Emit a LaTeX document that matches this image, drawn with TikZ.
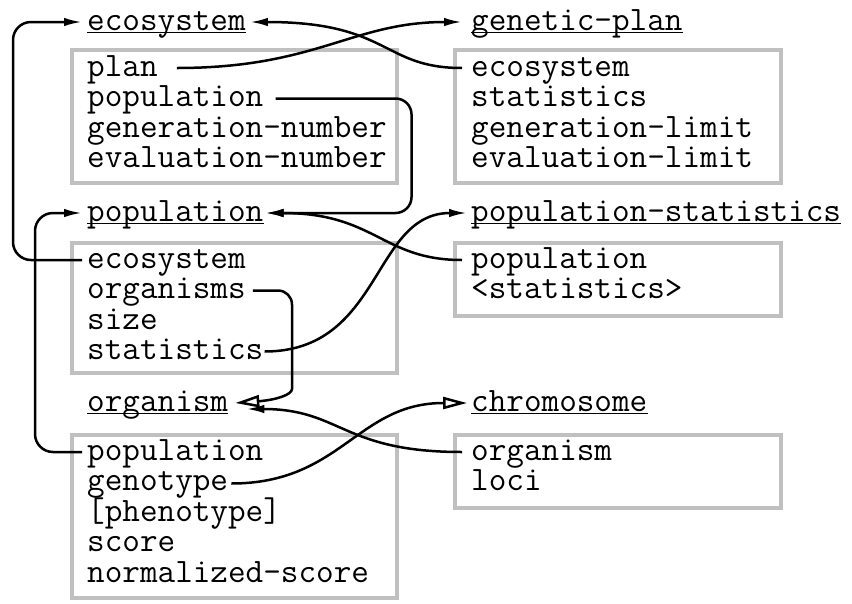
\documentclass[tikz,border=0pt]{standalone}
\usepackage{fontspec}
\usetikzlibrary{arrows.meta}
\definecolor{boxgray}{RGB}{192,192,192}
\begin{document}
\begin{tikzpicture}[x=1pt,y=-1pt,
  txt/.style={font=\ttfamily\fontsize{34.2}{30.5}\selectfont, inner sep=0pt, anchor=base west},
  gbox/.style={draw=boxgray, line width=3.3pt, inner sep=0pt},
  conn/.style={line width=2.5pt, -{Latex[length=18pt,width=8.5pt]}},
  oconn/.style={line width=2.5pt, -{Triangle[open,length=24pt,width=12pt]}},
  uline/.style={line width=1.5pt}]
\useasboundingbox (0,0) rectangle (852,603);

% boxes
\node[gbox, minimum width=325pt, minimum height=133pt] (bE) at (234.5,116.5) {};
\node[gbox, minimum width=326pt, minimum height=133pt] (bG) at (618,116.5) {};
\node[gbox, minimum width=325pt, minimum height=130pt] (bP) at (234.5,308) {};
\node[gbox, minimum width=326pt, minimum height=73pt] (bS) at (618,279.5) {};
\node[gbox, minimum width=325pt, minimum height=163pt] (bO) at (234.5,516.5) {};
\node[gbox, minimum width=326pt, minimum height=73pt] (bC) at (618,471.5) {};

% titles
\node[txt] (tE) at (87,30) {ecosystem};
\node[txt] (tG) at (471,30) {genetic-plan};
\node[txt] (tP) at (87,221) {population};
\node[txt] (tS) at (471,221) {population-statistics};
\node[txt] (tO) at (87,411) {organism};
\node[txt] (tC) at (471,411) {chromosome};
\foreach \t in {tE,tG,tP,tS,tO,tC}
  \draw[uline] ([yshift=-2.5pt]\t.base west) -- ([yshift=-2.5pt]\t.base east);

% slots
\node[txt] (e1) at (87,76) {plan};
\node[txt] (e2) at (87,106.5) {population};
\node[txt] (e3) at (87,137) {generation-number};
\node[txt] (e4) at (87,167.5) {evaluation-number};
\node[txt] (g1) at (471,76) {ecosystem};
\node[txt] (g2) at (471,106.5) {statistics};
\node[txt] (g3) at (471,137) {generation-limit};
\node[txt] (g4) at (471,167.5) {evaluation-limit};
\node[txt] (p1) at (87,268) {ecosystem};
\node[txt] (p2) at (87,298.5) {organisms};
\node[txt] (p3) at (87,329) {size};
\node[txt] (p4) at (87,359.5) {statistics};
\node[txt] (s1) at (471,268) {population};
\node[txt] (s2) at (471,298.5) {<statistics>};
\node[txt] (o1) at (87,460) {population};
\node[txt] (o2) at (87,490.5) {genotype};
\node[txt] (o3) at (87,521) {[phenotype]};
\node[txt] (o4) at (87,551.5) {score};
\node[txt] (o5) at (87,582) {normalized-score};
\node[txt] (c1) at (471,460) {organism};
\node[txt] (c2) at (471,490.5) {loci};

% arrow end points
\coordinate (aGP) at ([xshift=-9pt,yshift=8pt]tG.base west);
\coordinate (aER) at ([xshift=4pt,yshift=8pt]tE.base east);
\coordinate (aEL) at ([xshift=-5pt,yshift=8pt]tE.base west);
\coordinate (aPR) at ([xshift=2pt,yshift=8pt]tP.base east);
\coordinate (aPL) at ([xshift=-5pt,yshift=8pt]tP.base west);
\coordinate (aS) at ([xshift=-4pt,yshift=8pt]tS.base west);
\coordinate (aOR) at ([xshift=7pt,yshift=8pt]tO.base east);
\coordinate (aOF) at ([xshift=18pt,yshift=2pt]tO.base east);
\coordinate (aC) at ([xshift=-4pt,yshift=8pt]tC.base west);

% connectors
\draw[conn] ([xshift=19pt,yshift=8pt]e1.base east) .. controls +(140,0) and +(-110,0) .. (aGP);
\draw[conn] ([xshift=-9pt,yshift=8pt]g1.base west) .. controls +(-80,0) and +(140,0) .. (aER);
\draw[conn, rounded corners=16pt] ([xshift=12pt,yshift=8pt]e2.base east) -| ([xshift=146pt]aPR) -- (aPR);
\draw[conn, rounded corners=18pt] ([xshift=-5pt,yshift=8pt]p1.base west) -- ++(-69,0) |- (aEL);
\draw[conn] ([xshift=-9pt,yshift=8pt]s1.base west) .. controls +(-80,0) and +(110,0) .. (aPR);
\draw[conn] ([xshift=1pt,yshift=8pt]p4.base east) .. controls +(118,0) and +(-95,0) .. (aS);
\draw[oconn, rounded corners=14pt] ([xshift=7pt,yshift=8pt]p2.base east) -- (292,290.5) -- (292,375) .. controls (292,395) and (275,400) .. (aOR);
\draw[conn, rounded corners=18pt] ([xshift=-5pt,yshift=8pt]o1.base west) -- ++(-47,0) |- (aPL);
\draw[oconn] ([xshift=3pt,yshift=7pt]o2.base east) .. controls +(110,0) and +(-110,0) .. (aC);
\draw[conn] ([xshift=-9pt,yshift=8pt]c1.base west) .. controls +(-120,0) and +(95,0) .. (aOF);
\end{tikzpicture}
\end{document}
